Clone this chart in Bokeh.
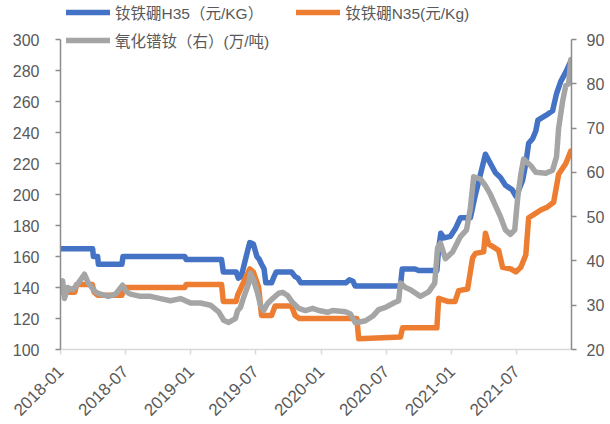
import pandas as pd
from bokeh.plotting import figure
from bokeh.models import LinearAxis, Range1d, Legend, LegendItem, DatetimeTickFormatter, FixedTicker, SingleIntervalTicker
from bokeh.embed import file_html
from bokeh.resources import INLINE

# ---- data ----
h35_dates = ["2018-01-01", "2018-04-01", "2018-04-03", "2018-04-15", "2018-04-17", "2018-06-22", "2018-06-25",
             "2018-12-15", "2018-12-19", "2019-03-28", "2019-04-02", "2019-05-08", "2019-05-14", "2019-05-22",
             "2019-06-05", "2019-06-15", "2019-06-25", "2019-07-05", "2019-07-12", "2019-07-18", "2019-07-25",
             "2019-07-30", "2019-08-15", "2019-08-22", "2019-08-28", "2019-10-10", "2019-10-20", "2019-10-28",
             "2019-11-05", "2020-03-10", "2020-03-20", "2020-03-30", "2020-04-05", "2020-08-10", "2020-08-15",
             "2020-09-20", "2020-09-30", "2020-11-20", "2020-11-25", "2020-12-01", "2020-12-10", "2020-12-28",
             "2021-01-11", "2021-01-25", "2021-02-22", "2021-03-08", "2021-03-22", "2021-04-05", "2021-04-19",
             "2021-05-03", "2021-05-17", "2021-05-31", "2021-06-19", "2021-06-29", "2021-07-04", "2021-07-18",
             "2021-07-27", "2021-08-04", "2021-08-15", "2021-08-24", "2021-08-30", "2021-09-21", "2021-10-10",
             "2021-10-21", "2021-11-02", "2021-11-16", "2021-11-30"]
h35_vals = [165, 165, 160, 160, 155, 155, 160,
            160, 158, 158, 150, 150, 146, 147,
            160, 169, 168, 160, 158, 155, 152,
            143, 143, 147, 150, 150, 147, 146,
            143, 143, 145, 144, 141, 141, 152,
            152, 151, 151, 165, 175, 172, 173,
            178, 185, 185, 200, 213, 226, 220,
            214, 211, 206, 203, 199, 201, 209,
            220, 233, 236, 241, 248, 251, 254,
            265, 273, 279, 286]

n35_dates = ["2018-01-01", "2018-02-10", "2018-02-15", "2018-03-31", "2018-04-05", "2018-04-15", "2018-06-22",
             "2018-06-25", "2018-12-15", "2018-12-19", "2019-03-28", "2019-04-02", "2019-05-08", "2019-05-12",
             "2019-06-01", "2019-06-15", "2019-06-25", "2019-07-10", "2019-07-18", "2019-08-15", "2019-08-25",
             "2019-10-10", "2019-10-20", "2019-11-01", "2020-04-10", "2020-04-15", "2020-08-10", "2020-08-16",
             "2020-11-20", "2020-11-25", "2020-12-20", "2021-01-10", "2021-01-20", "2021-02-14", "2021-02-28",
             "2021-03-08", "2021-03-31", "2021-04-05", "2021-04-14", "2021-04-28", "2021-05-12", "2021-05-23",
             "2021-06-15", "2021-06-29", "2021-07-13", "2021-07-27", "2021-08-04", "2021-08-18", "2021-09-07",
             "2021-09-26", "2021-10-13", "2021-10-27", "2021-11-16", "2021-11-30"]
n35_vals = [137, 137, 142, 142, 137, 135, 135,
            140, 140, 142, 142, 131, 131, 135,
            145, 152, 150, 140, 122, 122, 128,
            128, 122, 120, 120, 107, 108, 114,
            114, 133, 131, 131, 138, 139, 159,
            162, 163, 175, 168, 166, 164, 153,
            152, 150, 153, 161, 185, 187, 190,
            192, 195, 213, 220, 228]

prnd_dates = ["2018-01-01", "2018-01-07", "2018-01-12", "2018-01-21", "2018-02-04", "2018-02-20", "2018-03-09",
              "2018-03-20", "2018-04-09", "2018-04-23", "2018-05-15", "2018-06-04", "2018-06-24", "2018-07-05",
              "2018-07-16", "2018-08-13", "2018-09-10", "2018-10-08", "2018-11-05", "2018-12-03", "2018-12-31",
              "2019-01-28", "2019-02-25", "2019-03-20", "2019-04-03", "2019-04-17", "2019-05-06", "2019-05-12",
              "2019-05-20", "2019-05-29", "2019-06-12", "2019-06-17", "2019-06-26", "2019-07-07", "2019-07-15",
              "2019-07-24", "2019-08-04", "2019-08-18", "2019-09-04", "2019-09-15", "2019-09-29", "2019-10-13",
              "2019-10-30", "2019-11-18", "2019-12-08", "2019-12-25", "2020-01-19", "2020-02-02", "2020-03-09",
              "2020-03-23", "2020-04-06", "2020-05-04", "2020-05-24", "2020-06-10", "2020-06-29", "2020-07-22",
              "2020-08-05", "2020-08-10", "2020-08-24", "2020-09-07", "2020-10-05", "2020-10-28", "2020-11-14",
              "2020-11-22", "2020-11-30", "2020-12-14", "2021-01-03", "2021-01-25", "2021-02-11", "2021-02-22",
              "2021-03-03", "2021-03-22", "2021-04-05", "2021-04-19", "2021-05-03", "2021-05-17", "2021-05-31",
              "2021-06-14", "2021-06-26", "2021-07-04", "2021-07-13", "2021-07-21", "2021-08-10", "2021-08-24",
              "2021-09-21", "2021-10-10", "2021-10-21", "2021-10-27", "2021-11-07", "2021-11-16", "2021-11-24",
              "2021-11-30"]
prnd_vals = [33, 35.5, 31.5, 34, 33.5, 35, 37,
             35, 33, 32.5, 32, 32.5, 34.5, 33,
             32.5, 32, 32, 31.5, 31, 31.5, 30.5,
             30.5, 30, 28.5, 26.6, 26.1, 27, 28.8,
             29.5, 31.8, 34.9, 37.2, 35.6, 32.7, 30,
             28.8, 30.4, 31.5, 32.7, 32.9, 32.2, 30.6,
             29.3, 28.8, 29.3, 28.8, 28.4, 28.8, 28.5,
             28, 26, 26.5, 27.5, 29, 29.5, 30.5,
             31, 35, 34, 33.5, 32, 33, 35,
             43, 44, 40.5, 42, 45.5, 47, 52,
             59, 58.5, 57, 55, 52.5, 50, 47,
             46, 47, 54, 59.5, 63, 61.5, 60,
             59.8, 60.5, 63.5, 70, 76, 79.6, 80,
             85.5]

tick_dates = ["2018-01-01", "2018-07-01", "2019-01-01", "2019-07-01",
              "2020-01-01", "2020-07-01", "2021-01-01", "2021-07-01"]

left_min, left_max = 100, 300
right_min, right_max = 20, 90

labels = ["钕铁硼H35（元/KG）", "钕铁硼N35(元/Kg)", "氧化镨钕（右）(万/吨)"]
colors = ["#4472C4", "#ED7D31", "#A5A5A5"]

# ---- layout: frame spans from canvas top; axes are bounded to their value ranges ----
frame_h = 349
top_gap = 39  # pixels between frame top and the top tick (room for the legend)
left_top = left_max + top_gap * (left_max - left_min) / (frame_h - top_gap)
right_top = right_max + top_gap * (right_max - right_min) / (frame_h - top_gap)

p = figure(x_axis_type="datetime",
           x_range=Range1d(pd.Timestamp("2018-01-01"), pd.Timestamp("2021-12-02")),
           y_range=Range1d(left_min, left_top),
           frame_width=511, frame_height=frame_h,
           min_border_left=60, min_border_top=0, min_border_right=39, min_border_bottom=10,
           output_backend="svg", toolbar_location=None)
p.extra_y_ranges = {"right": Range1d(right_min, right_top)}
p.xgrid.visible = False
p.ygrid.visible = False
p.outline_line_color = None
p.background_fill_color = "white"

tick_font = "Liberation Sans"
lab_col = "#595959"

# left axis
ya = p.yaxis[0]
ya.bounds = (left_min, left_max)
ya.ticker = SingleIntervalTicker(interval=20)
ya.axis_line_color = "#8c8c8c"
ya.axis_line_width = 1.5
ya.major_tick_line_color = "#8c8c8c"
ya.major_tick_line_width = 1.5
ya.major_tick_out = 5
ya.major_tick_in = 0
ya.minor_tick_line_color = None
ya.major_label_text_font = tick_font
ya.major_label_text_font_size = "16px"
ya.major_label_text_color = lab_col
ya.major_label_standoff = 16

# right axis
ra = LinearAxis(y_range_name="right", ticker=SingleIntervalTicker(interval=10), bounds=(right_min, right_max))
ra.axis_line_color = "#8c8c8c"
ra.axis_line_width = 1.5
ra.major_tick_line_color = "#8c8c8c"
ra.major_tick_line_width = 1.5
ra.major_tick_out = 5
ra.major_tick_in = 0
ra.minor_tick_line_color = None
ra.major_label_text_font = tick_font
ra.major_label_text_font_size = "16px"
ra.major_label_text_color = lab_col
ra.major_label_standoff = 10
p.add_layout(ra, "right")

# bottom axis
xa = p.xaxis[0]
xa.ticker = FixedTicker(ticks=[pd.Timestamp(d).timestamp() * 1000 for d in tick_dates])
fmt = "%Y-%m"
xa.formatter = DatetimeTickFormatter(years=fmt, months=fmt, days=fmt, hours=fmt, minutes=fmt)
xa.axis_line_color = "#d9d9d9"
xa.axis_line_width = 1.5
xa.major_tick_line_color = "#d9d9d9"
xa.major_tick_line_width = 1.5
xa.major_tick_out = 5
xa.major_tick_in = 0
xa.minor_tick_line_color = None
xa.major_label_text_font = tick_font
xa.major_label_text_font_size = "17px"
xa.major_label_text_color = lab_col
xa.major_label_standoff = 14
xa.major_label_orientation = 0.785398

# ---- lines ----
r1 = p.line(pd.to_datetime(h35_dates), h35_vals, line_color=colors[0], line_width=5.5,
            line_cap="round", line_join="round")
r2 = p.line(pd.to_datetime(n35_dates), n35_vals, line_color=colors[1], line_width=5.5,
            line_cap="round", line_join="round")
r3 = p.line(pd.to_datetime(prnd_dates), prnd_vals, line_color=colors[2], line_width=5.5,
            line_cap="round", line_join="round", y_range_name="right")

def style_legend(lg):
    lg.background_fill_alpha = 0
    lg.border_line_alpha = 0
    lg.padding = 0
    lg.margin = 0
    lg.glyph_width = 44
    lg.glyph_height = 16
    lg.label_height = 16
    lg.label_standoff = 5
    lg.label_text_font = "Liberation Sans, Noto Sans CJK SC"
    lg.label_text_font_size = "15.5px"
    lg.label_text_color = lab_col
    lg.label_text_baseline = "middle"

leg1 = Legend(items=[LegendItem(label=labels[0], renderers=[r1]),
                     LegendItem(label=labels[1], renderers=[r2])],
              orientation="horizontal", location=(6, frame_h - 23), spacing=33)
style_legend(leg1)
leg2 = Legend(items=[LegendItem(label=labels[2], renderers=[r3])],
              orientation="horizontal", location=(6, frame_h - 51))
style_legend(leg2)
p.add_layout(leg1)
p.add_layout(leg2)

open("out.html", "w").write(file_html(p, INLINE))
